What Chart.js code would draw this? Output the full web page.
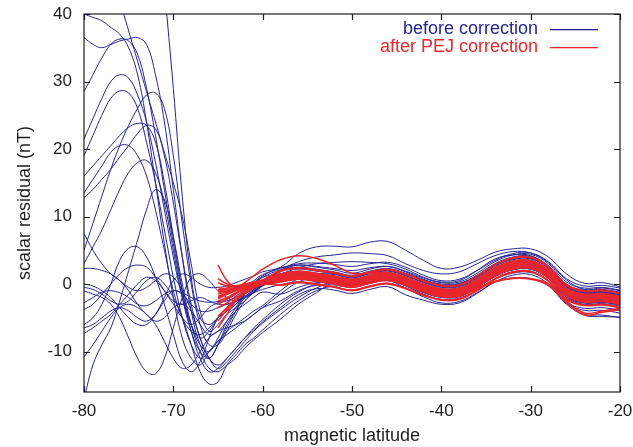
<!DOCTYPE html>
<html>
<head>
<meta charset="utf-8">
<script src="https://cdn.jsdelivr.net/npm/chart.js@4.4.1/dist/chart.umd.min.js"></script>
<style>
  html, body { margin: 0; padding: 0; background: #fff; }
  #wrap { width: 633px; height: 447px; }
</style>
</head>
<body>
<div id="wrap"><canvas id="chart" width="633" height="447"></canvas></div>
<script>
/* Scalar residuals vs magnetic latitude, before / after PEJ correction. */

// latitude grids: 1 deg steps up to -60, 2 deg after
const lat = [-80, -79, -78, -77, -76, -75, -74, -73, -72, -71, -70, -69, -68, -67, -66, -65, -64, -63, -62, -61, -60,
  -58, -56, -54, -52, -50, -48, -46, -44, -42, -40, -38, -36, -34, -32, -30, -28, -26, -24, -22, -20];
const latRed = [-65, -64, -63, -62, -61, -60,
  -58, -56, -54, -52, -50, -48, -46, -44, -42, -40, -38, -36, -34, -32, -30, -28, -26, -24, -22, -20];

const xTicks = [-80, -70, -60, -50, -40, -30, -20];
const yTicks = [-10, 0, 10, 20, 30, 40];

// before correction (one array per pass)
const before01 = [40, 39.5, 39, 38, 37, 35, 31, 24, 15, 6, -2, -8, -11, -12, -10, -8.5, -7.5, -6.5, -5.5, -4.5, -3.5,
  -1.5, 0.3, 1.0, 1.1, 0.6, 1.2, 1.6, 0.9, -0.1, -0.8, -0.7, 0.6, 2.3, 3.3, 3.4, 2.0, -0.7, -1.6, -1.5, -1.9];
const before02 = [36.5, 35.5, 35, 35.5, 36, 36.3, 36.5, 35.5, 31, 24, 14, 4, -4, -9, -11, -9, -6, -4, -1.5, 0, 1,
  2.1, 2.5, 2.2, 1.8, 1.3, 1.9, 2.3, 1.6, 0.6, -0.1, 0.0, 1.3, 3.0, 4.0, 4.1, 2.7, 0.0, -0.9, -0.8, -1.2];
const before03 = [28.5, 31, 33.5, 35.5, 36.3, 36, 34, 29, 22, 14, 6, -1, -6, -9, -10, -8, -5.5, -3.5, -1.5, 0, 1,
  1.5, 2.4, 3.0, 3.2, 3.3, 3.2, 3.0, 2.2, 1.0, 0.3, 0.5, 2.0, 3.7, 4.3, 4.2, 2.6, 0.0, -1.2, -1.0, -1.3];
const before04 = [21.5, 24.5, 27.5, 30, 31, 30.5, 28, 24, 18, 11, 4, -2, -6, -8, -7, -5, -3.5, -2.5, -1.5, -0.8, -0.2,
  0.3, 0.7, 0.4, 0.0, -0.5, 0.1, 0.5, -0.2, -1.2, -1.9, -1.8, -0.5, 1.2, 2.2, 2.3, 0.9, -1.8, -2.7, -2.6, -3.0];
const before05 = [19, 22, 25, 27.5, 28.6, 28.3, 26, 21, 15, 8, 1, -5, -9, -11, -10, -8.5, -7, -6, -5, -4, -3.2,
  -1.0, 0.8, 1.5, 1.4, 0.9, 1.5, 1.9, 1.2, 0.2, -0.5, -0.4, 0.9, 2.6, 3.6, 3.7, 2.3, -0.4, -1.3, -1.2, -1.6];
const before06 = [16, 17.5, 19, 20.5, 22, 23.2, 23.8, 23.5, 21, 15, 7, -1, -7, -11, -13, -12.5, -11, -9.5, -8, -6.8, -5.6,
  -3.5, -1.6, -0.7, -0.9, -1.4, -0.8, -0.4, -1.6, -2.4, -3.0, -2.8, -1.4, 0.3, 1.3, 1.4, 0.0, -2.7, -3.6, -3.5, -3.9];
const before07 = [13.5, 15.5, 17.5, 19.5, 20.5, 20.5, 19, 16, 11, 5, -1, -5, -7, -7.5, -6.5, -5, -4, -3, -1.5, -0.2, 0.6,
  1.1, 1.5, 1.2, 0.8, 0.3, 0.9, 1.3, 0.6, -0.4, -1.1, -1.0, 0.3, 2.0, 3.0, 3.1, 1.2, -2.5, -4.6, -4.8, -4.9];
const before08 = [12.8, 14, 15.5, 17, 18.8, 20.5, 22.3, 23.5, 23, 19, 12, 4, -3, -8, -11, -12.5, -11.5, -10, -8.5, -7, -5.8,
  -3.8, -2.0, -0.6, 0.3, -0.2, 0.4, 0.8, 0.1, -0.9, -1.6, -1.5, -0.2, 1.5, 2.5, 2.6, 1.2, -1.5, -2.4, -2.3, -2.7];
const before09 = [5, 9, 13, 17, 20.5, 23.5, 26, 28, 28.3, 26, 19, 9, 0, -6, -9, -9, -7, -4.5, -2.5, -1.2, 0,
  2.0, 3.3, 4.0, 4.3, 4.6, 4.5, 4.2, 3.0, 2.0, 1.5, 1.8, 3.0, 4.2, 4.8, 4.6, 3.2, 0.6, -0.8, -0.6, -1.0];
const before10 = [3, 5.5, 8, 11, 14, 16.5, 18, 18.3, 16.5, 12, 5, -2, -7, -10, -11, -9, -6.5, -4, -2, -0.8, 0.4,
  2.0, 2.8, 2.6, 2.3, 2.0, 2.4, 2.6, 1.8, 0.7, 0.0, 0.1, 1.3, 2.9, 3.8, 3.9, 2.4, -0.4, -1.4, -1.3, -1.7];
const before11 = [-17, -12, -9, -6.5, -2.5, 2, 6.5, 11, 14, 12.5, 7, 0, -6, -10, -12.5, -13, -12, -11, -9.5, -8.3, -7.2,
  -5.2, -3.0, -1.3, 0.2, 0.0, 0.6, 1.0, 0.2, -0.9, -1.7, -1.6, -0.4, 1.3, 2.3, 2.4, 1.0, -1.8, -2.8, -2.7, -3.1];
const before12 = [null, null, null, 46.5, 42, 37.5, 33, 28.5, 24, 19.5, 15, 10, 3, -4, -7, -6, -4.5, -3.5, -2.5, -1.2, -0.2,
  0.5, 1.0, 0.8, 0.4, -0.1, 0.5, 0.9, 0.2, -0.8, -1.5, -1.4, -0.1, 1.6, 2.6, 2.7, 1.3, -1.4, -2.3, -2.2, -2.6];
const before13 = [null, null, null, null, null, null, null, null, 60, 44, 29, 13, 1, -5, -6, -5, -4, -3, -2, -1.2, -0.3,
  1.8, 2.2, 1.9, 1.5, 1.0, 1.6, 2.0, 1.3, 0.3, -0.4, -0.3, 1.0, 2.7, 3.7, 3.8, 2.4, -0.3, -1.2, -1.1, -1.5];
const before14 = [7.5, 5, 3, 1.5, 0.5, -1, -3, -4.5, -5.5, -5, -3.5, -3, -4, -6, -7.5, -7, -5.5, -4, -3, -2, -1.2,
  -1.5, -0.5, 0.2, 0.2, -0.2, 0.3, 0.6, -0.3, -1.5, -2.3, -2.1, -0.9, 0.7, 1.6, 1.7, 0.4, -2.8, -3.9, -3.9, -4.3];
const before15 = [-6, -5, -3, 0, 3.5, 5.3, 5.5, 4, 1, -3, -7.5, -11.5, -13, -11.5, -8, -5, -3.5, -2.5, -1.8, -1, -0.2,
  1.0, 1.4, 1.1, 0.7, 0.2, 0.8, 1.2, 0.5, -0.5, -1.2, -1.1, 0.2, 1.9, 2.9, 3.0, 1.6, -1.1, -2.0, -1.9, -2.3];
const before16 = [-1, -1.5, -2, -3, -5, -8, -11, -13, -13.3, -11, -6.5, -2, 1, 1.5, 0.5, -1, -2, -2.5, -2, -1.3, -0.2,
  1.3, 1.7, 1.4, 1.0, 0.5, 1.1, 1.5, 0.8, -0.2, -0.9, -0.8, 0.5, 2.2, 3.2, 3.3, 1.9, -0.8, -1.7, -1.6, -2.0];
const before17 = [2.3, 2.3, 2, 1.5, 0.5, -0.5, -1, -0.5, 0.5, 1.5, 1, -1, -4, -8, -11, -12, -11, -9.5, -8, -6.5, -5.3,
  -3.0, -1.2, 0.0, 0.4, 0.0, 0.6, 1.0, 0.1, -1.1, -1.9, -1.7, -0.5, 1.1, 2.1, 2.2, 0.8, -2.0, -3.0, -2.9, -3.3];
const before18 = [-0.5, -0.8, -1.5, -2.5, -3, -2.5, -1, 0.5, 1, 0, -2, -5, -9, -13, -14.8, -14.5, -12, -10.5, -9, -8, -6.8,
  -4.5, -2.5, -1.0, -0.3, -0.4, 0.1, 0.5, -0.6, -1.9, -2.8, -2.6, -1.3, 0.3, 0.9, 0.8, -0.3, -3.0, -4.5, -4.6, -5.0];
const before19 = [-3.8, -3, -1.5, 0, 1.5, 2.5, 2.8, 2.5, 1, -1, -3, -5, -6, -5, -3.5, -2.8, -2.5, -2, -1, 0.2, 1.2,
  2.4, 2.8, 2.5, 2.1, 1.6, 2.2, 2.6, 1.9, 0.9, 0.2, 0.3, 1.6, 3.3, 4.3, 4.4, 3.0, 0.3, -0.6, -0.5, -0.9];
const before20 = [-6.5, -6, -5, -4, -3.5, -4, -5, -5.5, -4.5, -2.5, -1, -1.5, -3, -4, -4, -3.5, -3, -2.5, -2, -1.3, -0.8,
  -0.1, 0.3, 0.0, -0.4, -0.9, -0.3, 0.1, -0.6, -1.6, -2.3, -2.2, -0.9, 0.8, 1.8, 1.9, 0.5, -2.2, -3.1, -3.0, -3.4];
const before21 = [-10.8, -9, -7, -5, -3.5, -3, -3.5, -4.5, -6, -8.5, -11, -12.5, -12, -10, -8, -7, -6.5, -6, -5.5, -4.5, -3.5,
  -2.5, -1.0, -0.2, 0.0, -0.3, 0.3, 0.7, -0.2, -1.3, -2.0, -1.9, -0.6, 1.1, 2.1, 2.2, 0.8, -1.9, -2.8, -2.7, -3.1];
const before22 = [-7.3, -6.5, -5.5, -4.5, -3, -1.5, 0, 1, 0.5, -1, -2.5, -3, -2.5, -2, -2.5, -3, -3, -2.6, -2, -1, 0.2,
  1.5, 1.9, 1.6, 1.2, 0.7, 1.3, 1.7, 1.0, 0.0, -0.7, -0.6, 0.7, 2.4, 3.4, 3.5, 2.1, -0.6, -1.5, -1.4, -1.8];
const before23 = [-2.8, -2, -1.2, -1, -1.3, -2, -3, -3.2, -2.5, -1.5, -1, -1.3, -2, -2.5, -2.7, -2.6, -2.3, -1.5, -0.5, 0.5, 1.4,
  2.3, 3.0, 3.1, 2.9, 2.6, 3.0, 3.2, 2.5, 1.3, 0.5, 0.7, 2.0, 3.5, 4.5, 4.6, 3.3, 0.8, -0.3, -0.2, -0.6];
const before24 = [0, -0.3, -1, -2, -3.5, -5, -6, -6, -4.5, -2, 0.5, 1.5, 1, 0, -0.5, -0.5, -0.3, 0.2, 0.7, 1.2, 1.8,
  2.5, 4.5, 5.5, 5.6, 5.5, 6.2, 6.3, 5.0, 3.5, 2.3, 2.5, 3.5, 4.7, 5.2, 5.2, 4.0, 1.5, 0.1, 0.2, -0.4];

// after PEJ correction
const after01 = [-1.0, -0.8, -0.5, -0.2, 0.1, 0.4,
  1.5, 1.9, 1.6, 1.2, 0.7, 1.3, 1.7, 1.0, 0.0, -0.7, -0.6, 0.7, 2.4, 3.4, 3.5, 2.1, -0.6, -1.5, -1.4, -1.8];
const after02 = [-2.0, -1.5, -1.0, -0.5, -0.1, 0.3,
  1.2, 1.6, 1.3, 0.9, 0.4, 1.0, 1.4, 0.7, -0.3, -1.0, -0.9, 0.4, 2.1, 3.1, 3.2, 1.8, -0.9, -1.8, -1.7, -2.1];
const after03 = [2.8, 0.5, -0.5, -0.4, -0.1, 0.2,
  0.9, 1.3, 1.0, 0.6, 0.1, 0.7, 1.1, 0.4, -0.6, -1.3, -1.2, 0.1, 1.8, 2.8, 2.9, 1.5, -1.2, -2.1, -2.0, -2.4];
const after04 = [-6.5, -4.5, -2.5, -1.2, -0.4, 0.1,
  0.4, 0.8, 0.5, 0.1, -0.4, 0.2, 0.6, -0.1, -1.1, -1.8, -1.7, -0.4, 1.3, 2.3, 2.4, 1.0, -1.7, -2.6, -2.5, -2.9];
const after05 = [-0.5, -0.8, -0.6, -0.3, 0.1, 0.5,
  1.9, 2.3, 2.0, 1.6, 1.1, 1.7, 2.1, 1.4, 0.4, -0.3, -0.2, 1.1, 2.8, 3.8, 3.9, 2.5, -0.2, -1.1, -1.0, -1.4];
const after06 = [-1.5, -1.2, -0.9, -0.5, -0.1, 0.3,
  0.7, 1.1, 0.8, 0.4, -0.1, 0.5, 0.9, 0.2, -0.8, -1.5, -1.4, -0.1, 1.6, 2.6, 2.7, 1.3, -1.4, -2.3, -2.2, -2.6];
const after07 = [-3.5, -2.8, -1.8, -0.9, -0.3, 0.1,
  -0.1, 0.3, 0.0, -0.4, -0.9, -0.3, 0.1, -0.6, -1.6, -2.3, -2.2, -0.9, 0.8, 1.8, 1.9, 0.5, -2.2, -3.1, -3.0, -3.4];
const after08 = [-1.2, -1.0, -0.7, -0.3, 0.1, 0.4,
  1.1, 1.5, 1.2, 0.8, 0.3, 0.9, 1.3, 0.6, -0.4, -1.1, -1.0, 0.3, 2.0, 3.0, 3.1, 1.7, -1.0, -1.9, -1.8, -2.2];
const after09 = [-2.5, -2.0, -1.3, -0.7, -0.2, 0.2,
  0.5, 0.9, 0.6, 0.2, -0.3, 0.3, 0.7, 0.0, -1.0, -1.7, -1.6, -0.3, 1.4, 2.4, 2.5, 1.1, -1.6, -2.5, -2.4, -2.8];
const after10 = [0.2, -0.3, -0.4, -0.2, 0.2, 0.6,
  2.0, 2.4, 2.1, 1.7, 1.2, 1.8, 2.2, 1.5, 0.5, -0.2, -0.1, 1.2, 2.9, 3.9, 4.0, 2.6, -0.1, -1.0, -0.9, -1.3];
const after11 = [-4.8, -3.5, -2.2, -1.2, -0.5, 0.0,
  -0.2, 0.2, -0.1, -0.5, -1.0, -0.4, 0.0, -0.7, -1.7, -2.4, -2.3, -1.0, 0.7, 1.7, 1.8, 0.4, -2.3, -3.2, -3.1, -3.5];
const after12 = [-0.8, -0.6, -0.3, 0.0, 0.3, 0.6,
  1.3, 1.7, 1.4, 1.0, 0.5, 1.1, 1.5, 0.8, -0.2, -0.9, -0.8, 0.5, 2.2, 3.2, 3.3, 1.9, -0.8, -1.7, -1.6, -2.0];
const after13 = [-1.8, -1.4, -0.9, -0.5, -0.1, 0.3,
  0.8, 1.2, 0.9, 0.5, 0.0, 0.6, 1.0, 0.3, -0.7, -1.4, -1.3, 0.0, 1.7, 2.7, 2.8, 1.4, -1.3, -2.2, -2.1, -2.5];
const after14 = [-2.2, -1.5, -0.8, 0.2, 1.2, 2.2,
  3.6, 4.2, 3.8, 2.8, 1.6, 1.6, 1.7, 0.9, -0.2, -0.9, -0.8, 0.5, 2.2, 3.2, 3.3, 1.9, -0.8, -1.7, -1.6, -2.0];
const after15 = [-1.0, -1.2, -0.9, -0.4, 0.0, 0.4,
  0.9, 1.3, 1.0, 0.6, 0.1, 0.7, 1.1, 0.4, -0.6, -1.3, -1.3, -0.6, 0.4, 0.9, 0.8, 0.0, -2.5, -4.3, -4.0, -3.6];
const after16 = [-3.0, -2.2, -1.4, -0.7, -0.2, 0.2,
  0.6, 1.0, 0.7, 0.3, -0.2, 0.4, 0.8, 0.1, -0.9, -1.6, -1.6, -0.8, 0.3, 0.8, 0.7, -0.2, -2.8, -4.6, -4.2, -3.8];
const after17 = [0.8, 0.0, -0.3, -0.2, 0.2, 0.5,
  1.4, 1.8, 1.5, 1.1, 0.6, 1.2, 1.6, 0.9, -0.1, -0.8, -0.7, 0.6, 2.3, 3.3, 3.4, 2.0, -0.7, -1.6, -1.5, -1.9];
const after18 = [-5.5, -3.8, -2.5, -1.4, -0.6, -0.1,
  0.3, 0.7, 0.4, 0.0, -0.5, 0.1, 0.5, -0.2, -1.2, -1.9, -1.8, -0.5, 1.2, 2.2, 2.3, 0.9, -1.8, -2.7, -2.6, -3.0];

const beforeCurves = [before01, before02, before03, before04, before05, before06, before07, before08,
  before09, before10, before11, before12, before13, before14, before15, before16,
  before17, before18, before19, before20, before21, before22, before23, before24];
const afterCurves = [after01, after02, after03, after04, after05, after06, after07, after08, after09,
  after10, after11, after12, after13, after14, after15, after16, after17, after18];

const BLUE = "#25258f";
const RED = "#e8262d";
const INK = "#1e1e1e";
const FONT = "'Liberation Sans', Arial, Helvetica, sans-serif";

const toPoints = (xs, ys) => ys.map((y, i) => ({ x: xs[i], y }));

// red first so it sits on top of the blue bundle
const datasets = [
  ...afterCurves.map((c) => ({ data: toPoints(latRed, c), borderColor: RED, borderWidth: 1.5 })),
  ...beforeCurves.map((c) => ({ data: toPoints(lat, c), borderColor: BLUE, borderWidth: 1 })),
];

// gnuplot-style frame, inward ticks on all four sides, and the key
const frameAndKey = {
  id: "frameAndKey",
  afterDatasetsDraw(chart) {
    const { ctx, chartArea: a, scales } = chart;
    ctx.save();
    ctx.strokeStyle = INK;
    ctx.lineWidth = 1.2;
    ctx.strokeRect(a.left, a.top, a.right - a.left, a.bottom - a.top);
    ctx.beginPath();
    xTicks.forEach((v) => {
      const px = Math.round(scales.x.getPixelForValue(v)) + 0.5;
      ctx.moveTo(px, a.bottom); ctx.lineTo(px, a.bottom - 6);
      ctx.moveTo(px, a.top); ctx.lineTo(px, a.top + 6);
    });
    yTicks.forEach((v) => {
      const py = Math.round(scales.y.getPixelForValue(v)) + 0.5;
      ctx.moveTo(a.left, py); ctx.lineTo(a.left + 6, py);
      ctx.moveTo(a.right, py); ctx.lineTo(a.right - 6, py);
    });
    ctx.stroke();

    const keyRows = [
      { label: "before correction", color: BLUE },
      { label: "after PEJ correction", color: RED },
    ];
    ctx.font = "18px " + FONT;
    ctx.textAlign = "right";
    ctx.textBaseline = "middle";
    keyRows.forEach((row, i) => {
      const y = Math.round(a.top + 15 + i * 18);
      ctx.fillStyle = row.color;
      ctx.fillText(row.label, a.right - 82, y);
      ctx.fillRect(a.right - 70, y, 48, 1.3);
    });
    ctx.restore();
  },
};

new Chart(document.getElementById("chart").getContext("2d"), {
  type: "line",
  data: { datasets },
  plugins: [frameAndKey],
  options: {
    responsive: false,
    animation: false,
    devicePixelRatio: 1,
    layout: { padding: { left: 0, right: 13, top: 14, bottom: 0 } },
    elements: { point: { radius: 0 }, line: { tension: 0.4, fill: false } },
    plugins: { legend: { display: false }, tooltip: { enabled: false } },
    scales: {
      x: {
        type: "linear",
        min: -80,
        max: -20,
        afterBuildTicks: (s) => { s.ticks = xTicks.map((v) => ({ value: v })); },
        afterFit: (s) => { s.height = 55; s.paddingLeft = 0; s.paddingRight = 0; },
        grid: { display: false, drawTicks: false },
        border: { display: false },
        ticks: { padding: 9, color: INK, font: { family: FONT, size: 17 } },
        title: {
          display: true, text: "magnetic latitude", color: INK,
          font: { family: FONT, size: 18 }, padding: { top: 0, bottom: 0 },
        },
      },
      y: {
        type: "linear",
        min: -16,
        max: 40,
        afterBuildTicks: (s) => { s.ticks = yTicks.map((v) => ({ value: v })); },
        afterFit: (s) => { s.width = 84; s.paddingTop = 0; s.paddingBottom = 0; },
        grid: { display: false, drawTicks: false },
        border: { display: false },
        ticks: { padding: 12, color: INK, font: { family: FONT, size: 17 } },
        title: {
          display: true, text: "scalar residual (nT)", color: INK,
          font: { family: FONT, size: 18 }, padding: { top: 14, bottom: 0 },
        },
      },
    },
  },
});
</script>
</body>
</html>
